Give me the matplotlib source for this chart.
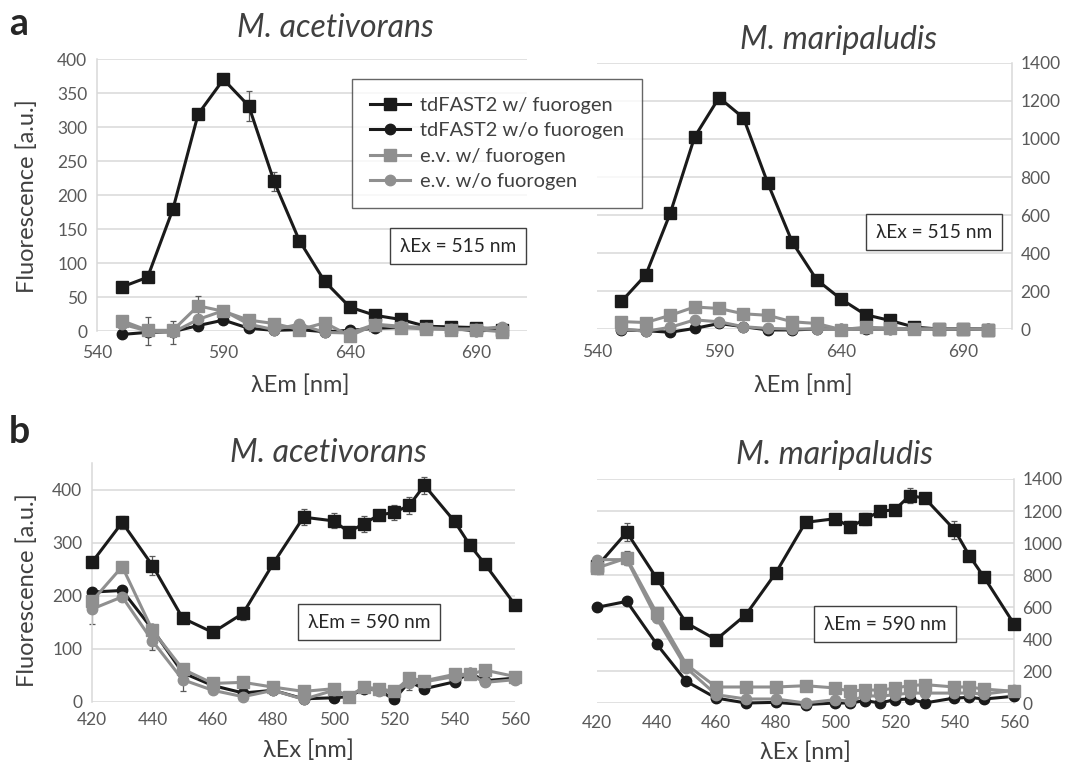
import matplotlib
matplotlib.use("Agg")
import matplotlib.pyplot as plt

plt.rcParams['font.family'] = ['Lato', 'DejaVu Sans']

W, H = 1071, 766

# ---- data: panel a (emission scans, lambda Ex = 515 nm)
em_nm = [550, 560, 570, 580, 590, 600, 610, 620, 630, 640, 650, 660, 670, 680, 690, 700]

aceti_em_fast_w = [65, 79, 179, 319, 370, 331, 220, 133, 73, 35, 23, 17, 7, 6, 5, 2]
aceti_em_fast_wo = [-5, -2, -1, 8, 16, 4, 1, 2, -1, 1, 4, 5, 5, 4, 0, 2]
aceti_em_ev_w = [15, 1, 1, 37, 29, 16, 11, 2, 12, -7, 9, 5, 3, 2, 2, -1]
aceti_em_ev_wo = [10, 0, -2, 17, 30, 10, 2, 10, -2, -3, 10, 7, 5, 3, 3, 6]
aceti_em_fast_w_err = [3, 3, 4, 5, 4, 22, 14, 6, 4, 3, 2, 2, 2, 1, 1, 1]
aceti_em_ev_wo_err = [3, 20, 17, 4, 5, 3, 6, 3, 3, 2, 2, 2, 1, 1, 1, 1]
aceti_em_ev_w_err = [3, 3, 3, 15, 5, 3, 3, 2, 3, 2, 2, 2, 1, 1, 1, 1]

mari_em_fast_w = [145, 285, 609, 1011, 1218, 1111, 766, 457, 259, 157, 75, 45, 10, 0, 0, -3]
mari_em_fast_wo = [-5, -9, -17, 3, 29, 12, -5, -5, 0, 0, 0, 0, 0, 0, 0, 0]
mari_em_ev_w = [39, 34, 72, 116, 108, 80, 72, 38, 29, -3, 9, 5, 0, 0, 0, -3]
mari_em_ev_wo = [0, -12, 9, 48, 38, 12, 3, 0, 0, -2, 3, 3, 0, 0, 0, 0]

# ---- data: panel b (excitation scans, lambda Em = 590 nm)
ex_nm = [420, 430, 440, 450, 460, 470, 480, 490, 500, 505, 510, 515, 520, 525, 530, 540, 545, 550, 560]

aceti_ex_fast_w = [263, 338, 257, 158, 131, 167, 261, 348, 341, 320, 336, 352, 357, 370, 408, 340, 296, 260, 183]
aceti_ex_fast_wo = [207, 210, 137, 55, 31, 17, 22, 6, 8, 10, 25, 22, 5, 38, 25, 38, 55, 40, 45]
aceti_ex_ev_w = [190, 255, 135, 62, 35, 37, 28, 20, 25, 10, 28, 25, 20, 45, 40, 52, 52, 60, 48]
aceti_ex_ev_wo = [175, 198, 115, 42, 22, 10, 22, 5, 22, 10, 28, 20, 20, 35, 38, 48, 52, 37, 42]
aceti_ex_fast_w_err = [8, 12, 18, 10, 6, 12, 5, 15, 14, 6, 15, 10, 14, 16, 16, 8, 10, 5, 5]
aceti_ex_ev_wo_err = [28, 8, 18, 22, 5, 4, 4, 3, 3, 3, 4, 3, 4, 12, 4, 12, 4, 4, 4]

mari_ex_fast_w = [854, 1067, 781, 500, 396, 552, 812, 1129, 1152, 1100, 1150, 1198, 1208, 1296, 1281, 1083, 921, 785, 494]
mari_ex_fast_wo = [598, 635, 369, 135, 31, 0, 4, -10, 0, 0, 15, 0, 21, 25, 0, 31, 35, 25, 42]
mari_ex_ev_w = [844, 906, 563, 240, 100, 100, 100, 108, 94, 73, 83, 79, 94, 108, 115, 100, 100, 87, 73]
mari_ex_ev_wo = [896, 896, 531, 219, 52, 25, 25, 0, 21, 10, 46, 42, 52, 62, 62, 62, 62, 56, 79]
mari_ex_fast_w_err = [40, 55, 20, 20, 25, 15, 20, 20, 20, 40, 40, 30, 20, 45, 20, 55, 25, 20, 10]
mari_ex_ev_w_err = [40, 45, 20, 10, 8, 5, 5, 5, 5, 5, 5, 5, 5, 5, 5, 5, 5, 5, 5]

labels = ['tdFAST2 w/ fuorogen', 'tdFAST2 w/o fuorogen', 'e.v. w/ fuorogen', 'e.v. w/o fuorogen']
BLACK = '#1a1a1a'
GREY = '#8f8f8f'
GRID = '#d9d9d9'
TICK = '#595959'
TEXT = '#404040'


def px_rect(x0, y0, x1, y1):
    return [x0 / W, 1 - y1 / H, (x1 - x0) / W, (y1 - y0) / H]


def fx(x):
    return x / W


def fy(y):
    return 1 - y / H


def draw_series(ax, x, ys, errs):
    styles = [(BLACK, 's', 8.5), (BLACK, 'o', 7.5), (GREY, 's', 8.5), (GREY, 'o', 7.5)]
    handles = []
    for y, (c, m, ms), lab, e in zip(ys, styles, labels, errs):
        if e is not None:
            ax.errorbar(x, y, yerr=e, fmt='none', ecolor='#5a5a5a', elinewidth=0.9,
                        capsize=2.5, capthick=0.9, zorder=2, clip_on=False)
        h, = ax.plot(x, y, color=c, marker=m, markersize=ms, linewidth=2.2,
                     label=lab, zorder=3, clip_on=False)
        handles.append(h)
    return handles


def style_axes(ax, side, yticks, xticks, xpad):
    ax.set_yticks(yticks)
    ax.set_xticks(xticks)
    ax.grid(axis='y', color=GRID, linewidth=1.1)
    ax.set_axisbelow(True)
    for s in ax.spines.values():
        s.set_visible(False)
    ax.spines[side].set_visible(True)
    ax.spines[side].set_color(GRID)
    ax.spines[side].set_linewidth(1.1)
    ax.tick_params(length=0, labelsize=12.5, labelcolor=TICK)
    ax.tick_params(axis='x', pad=xpad)
    ax.tick_params(axis='y', pad=7 if side == 'left' else 6)
    if side == 'right':
        ax.yaxis.tick_right()


fig = plt.figure(figsize=(W / 100, H / 100), dpi=100)

# panel a left
ax1 = fig.add_axes(px_rect(97, 59, 527, 331))
hs = draw_series(ax1, em_nm, [aceti_em_fast_w, aceti_em_fast_wo, aceti_em_ev_w, aceti_em_ev_wo],
                 [aceti_em_fast_w_err, None, aceti_em_ev_w_err, aceti_em_ev_wo_err])
ax1.set_xlim(540, 710)
ax1.set_ylim(0, 400)
style_axes(ax1, 'left', range(0, 401, 50), [540, 590, 640, 690], 10)

# panel a right
ax2 = fig.add_axes(px_rect(597, 63, 1012, 329))
draw_series(ax2, em_nm, [mari_em_fast_w, mari_em_fast_wo, mari_em_ev_w, mari_em_ev_wo],
            [None, None, None, None])
ax2.set_xlim(540, 710)
ax2.set_ylim(0, 1400)
style_axes(ax2, 'right', range(0, 1401, 200), [540, 590, 640, 690], 11)

# panel b left
ax3 = fig.add_axes(px_rect(92, 463, 515, 702))
draw_series(ax3, ex_nm, [aceti_ex_fast_w, aceti_ex_fast_wo, aceti_ex_ev_w, aceti_ex_ev_wo],
            [aceti_ex_fast_w_err, None, None, aceti_ex_ev_wo_err])
ax3.set_xlim(420, 560)
ax3.set_ylim(0, 450)
style_axes(ax3, 'left', range(0, 401, 100), range(420, 561, 20), 7)

# panel b right
ax4 = fig.add_axes(px_rect(597, 479, 1014, 703))
draw_series(ax4, ex_nm, [mari_ex_fast_w, mari_ex_fast_wo, mari_ex_ev_w, mari_ex_ev_wo],
            [mari_ex_fast_w_err, None, mari_ex_ev_w_err, None])
ax4.set_xlim(420, 560)
ax4.set_ylim(0, 1400)
style_axes(ax4, 'right', range(0, 1401, 200), range(420, 561, 20), 9)

# titles, panel letters, axis labels
title_kw = dict(fontsize=23, style='italic', color=TEXT, ha='center', va='center')
fig.text(fx(335), fy(28), 'M. acetivorans', **title_kw)
fig.text(fx(838), fy(40), 'M. maripaludis', **title_kw)
fig.text(fx(328), fy(453), 'M. acetivorans', **title_kw)
fig.text(fx(835), fy(455), 'M. maripaludis', **title_kw)

fig.text(fx(19), fy(24), 'a', fontsize=27, fontweight='bold', ha='center', va='center', color='#262626')
fig.text(fx(19), fy(432), 'b', fontsize=27, fontweight='bold', ha='center', va='center', color='#262626')

lab_kw = dict(fontsize=17, color=TEXT, ha='center', va='center')
fig.text(fx(27), fy(196), 'Fluorescence [a.u.]', rotation=90, **lab_kw)
fig.text(fx(27), fy(590), 'Fluorescence [a.u.]', rotation=90, **lab_kw)
fig.text(fx(300), fy(385), 'λEm [nm]', **lab_kw)
fig.text(fx(803), fy(385), 'λEm [nm]', **lab_kw)
fig.text(fx(308), fy(750), 'λEx [nm]', **lab_kw)
fig.text(fx(805), fy(752), 'λEx [nm]', **lab_kw)

# condition boxes
box_kw = dict(fontsize=13.8, color='#262626', ha='center', va='center',
              bbox=dict(boxstyle='square,pad=0.5', fc='white', ec='#404040', lw=1))
fig.text(fx(458), fy(246), 'λEx = 515 nm', **box_kw)
fig.text(fx(934), fy(232), 'λEx = 515 nm', **box_kw)
fig.text(fx(369), fy(622), 'λEm = 590 nm', **box_kw)
fig.text(fx(885), fy(624), 'λEm = 590 nm', **box_kw)

leg = fig.legend(handles=hs, loc='upper left', bbox_to_anchor=(fx(352), fy(79)),
                 frameon=True, fancybox=False, fontsize=14.4, handlelength=2.0,
                 borderpad=0.9, labelspacing=0.42, handletextpad=0.5, borderaxespad=0)
leg.get_frame().set_edgecolor('#404040')
leg.get_frame().set_linewidth(1)
for t in leg.get_texts():
    t.set_color(TEXT)

fig.savefig('out.png', dpi=100)
